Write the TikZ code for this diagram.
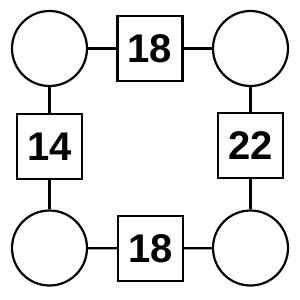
\documentclass[tikz,border=0pt]{standalone}
\usepackage{fontspec}
\setmainfont{Liberation Sans}
\begin{document}
\begin{tikzpicture}[x=1pt,y=-1pt,
  circ/.style={circle,draw,line width=2.2pt,minimum size=75pt,inner sep=0pt},
  sq/.style={rectangle,draw,line width=2.2pt,minimum size=65pt,inner sep=0pt,font=\fontsize{40}{40}\selectfont\bfseries},
  conn/.style={line width=2.2pt}]
\useasboundingbox (0,0) rectangle (300,300);
\node[circ] (tl) at (49.5,48.5) {};
\node[circ] (tr) at (250.5,48.5) {};
\node[circ] (bl) at (49.5,248) {};
\node[circ] (br) at (250.5,248) {};
\node[sq] (t) at (150,48.5) {18};
\node[sq] (l) at (49.5,146.5) {14};
\node[sq] (r) at (250.5,145.5) {22};
\node[sq] (b) at (150.5,248.5) {18};
\draw[conn] (tl) -- (t);
\draw[conn] (t) -- (tr);
\draw[conn] (tl) -- (l);
\draw[conn] (l) -- (bl);
\draw[conn] (tr) -- (r);
\draw[conn] (r) -- (br);
\draw[conn] (bl) -- (b);
\draw[conn] (b) -- (br);
\end{tikzpicture}
\end{document}
